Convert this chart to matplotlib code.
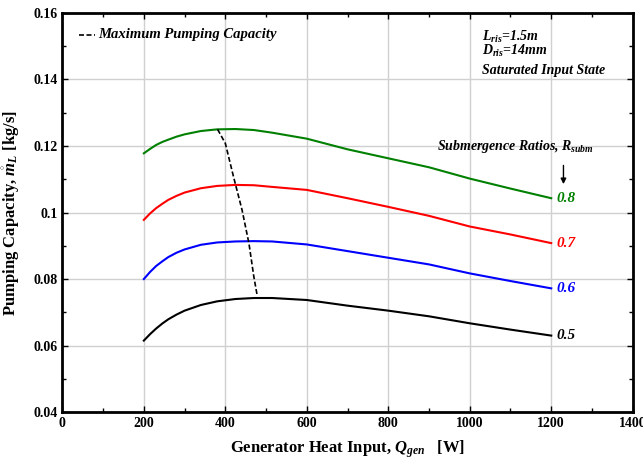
import matplotlib
matplotlib.use("Agg")
import matplotlib.pyplot as plt
from matplotlib.ticker import MultipleLocator

plt.rcParams["font.family"] = "Liberation Serif"
plt.rcParams["font.weight"] = "bold"
plt.rcParams["axes.labelweight"] = "bold"
plt.rcParams["mathtext.fontset"] = "custom"
plt.rcParams["mathtext.it"] = "Liberation Serif:italic:bold"
plt.rcParams["mathtext.rm"] = "Liberation Serif:bold"
plt.rcParams["mathtext.bf"] = "Liberation Serif:bold"

# heat input (W) and pumping capacity (kg/s) per submergence ratio
q_gen = [200, 215, 230, 245, 260, 280, 300, 340, 380, 425, 470, 515, 600,
         700, 800, 900, 1000, 1100, 1200]
m_08 = [0.1178, 0.1191, 0.1203, 0.1212, 0.1219, 0.1228, 0.1235, 0.1245, 0.1250,
        0.1251, 0.1248, 0.1240, 0.1222, 0.1190, 0.1163, 0.1136, 0.1102, 0.1072, 0.1043]
m_07 = [0.0978, 0.0997, 0.1013, 0.1026, 0.1038, 0.1050, 0.1060, 0.1073, 0.1080,
        0.1083, 0.1082, 0.1077, 0.1068, 0.1043, 0.1017, 0.0990, 0.0958, 0.0934, 0.0908]
m_06 = [0.0800, 0.0821, 0.0839, 0.0853, 0.0866, 0.0879, 0.0889, 0.0903, 0.0910,
        0.0913, 0.0914, 0.0913, 0.0904, 0.0884, 0.0864, 0.0844, 0.0817, 0.0794, 0.0772]
m_05 = [0.0615, 0.0634, 0.0651, 0.0666, 0.0679, 0.0693, 0.0705, 0.0722, 0.0733,
        0.0740, 0.0743, 0.0743, 0.0737, 0.0720, 0.0705, 0.0688, 0.0667, 0.0648, 0.0630]

# locus of maximum pumping capacity
max_q = [381, 400, 420, 441, 458, 470, 478]
max_m = [0.1250, 0.1208, 0.1108, 0.1008, 0.0907, 0.0807, 0.0752]

series = [("0.8", m_08, "#008000"), ("0.7", m_07, "#ff0000"),
          ("0.6", m_06, "#0000ff"), ("0.5", m_05, "#000000")]

fig = plt.figure(figsize=(6.43, 4.62), dpi=100)
ax = fig.add_axes([0.097, 0.108, 0.887, 0.864])

for lab, vals, col in series:
    ax.plot(q_gen, vals, color=col, lw=1.5, solid_joinstyle="round")
    ax.text(q_gen[-1] + 12, vals[-1], lab, color=col, fontsize=11,
            style="italic", weight="bold", va="center", ha="left")

ax.plot(max_q, max_m, color="black", lw=1.2, ls=(0, (3, 1.5)))

ax.set_xlim(0, 1400)
ax.set_ylim(0.04, 0.16)
ax.xaxis.set_major_locator(MultipleLocator(200))
ax.xaxis.set_minor_locator(MultipleLocator(100))
ax.yaxis.set_minor_locator(MultipleLocator(0.01))
ax.set_yticks([0.04, 0.06, 0.08, 0.1, 0.12, 0.14, 0.16])
ax.set_yticklabels(["0.04", "0.06", "0.08", "0.1", "0.12", "0.14", "0.16"])
ax.grid(True, which="major", color="#d0d0d0", lw=1)
ax.set_axisbelow(True)
ax.tick_params(which="both", direction="in", top=True, right=True,
               labelsize=10, width=1)
ax.tick_params(which="major", length=4)
ax.tick_params(which="minor", length=3)
for sp in ax.spines.values():
    sp.set_linewidth(2)

ax.set_xlabel(r"Generator Heat Input, $Q_{gen}$   [W]", fontsize=12, labelpad=6)
ax.set_ylabel(r"Pumping Capacity, $\mathring{m}_L$ [kg/s]", fontsize=12, labelpad=8)

# legend for the dashed locus
ax.plot([40, 80], [0.1535, 0.1535], color="black", lw=1.2, ls=(0, (3, 1.5)))
ax.text(88, 0.1535, "Maximum Pumping Capacity", fontsize=10.5, style="italic",
        va="center", ha="left")

ax.text(1030, 0.1529, r"$L_{ris}$=1.5m", fontsize=10, style="italic", va="center")
ax.text(1030, 0.1486, r"$D_{ris}$=14mm", fontsize=10, style="italic", va="center")
ax.text(1030, 0.1426, "Saturated Input State", fontsize=10, style="italic",
        va="center")

ax.text(920, 0.1197, r"Submergence Ratios, $R_{subm}$", fontsize=10,
        style="italic", va="center")
ax.annotate("", xy=(1230, 0.1077), xytext=(1230, 0.1150),
            arrowprops=dict(arrowstyle="-|>", color="black", lw=1,
                            mutation_scale=8))

fig.savefig("out.png", dpi=100)
